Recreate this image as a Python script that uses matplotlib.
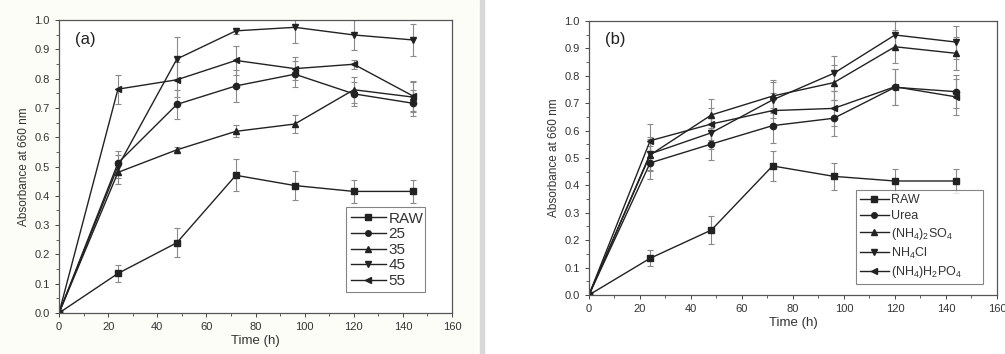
import matplotlib
matplotlib.use('Agg')
import numpy as np
from matplotlib import pyplot as plt
from matplotlib.ticker import MultipleLocator
from matplotlib.lines import Line2D

plt.rcParams['font.family'] = ['Liberation Sans', 'DejaVu Sans']
plt.rcParams['mathtext.default'] = 'regular'

# ========== Datos ==========
time_h = [0, 24, 48, 72, 96, 120, 144]

# panel (a): temperaturas
labels_a = ['RAW', '25', '35', '45', '55']
raw_a = [0, 0.135, 0.24, 0.47, 0.435, 0.415, 0.415]
t25 = [0, 0.512, 0.712, 0.775, 0.815, 0.748, 0.716]
t35 = [0, 0.48, 0.557, 0.62, 0.645, 0.762, 0.737]
t45 = [0, 0.50, 0.867, 0.963, 0.975, 0.949, 0.932]
t55 = [0, 0.764, 0.796, 0.862, 0.834, 0.849, 0.741]
raw_a_err = [0, 0.03, 0.05, 0.055, 0.05, 0.04, 0.04]
t25_err = [0, 0.04, 0.05, 0.055, 0.045, 0.04, 0.045]
t35_err = [0, 0.04, 0.01, 0.02, 0.03, 0.045, 0.05]
t45_err = [0, 0.04, 0.075, 0.01, 0.055, 0.05, 0.055]
t55_err = [0, 0.05, 0.06, 0.05, 0.04, 0.015, 0.05]

# panel (b): fuentes de nitrogeno
labels_b = ['RAW', 'Urea', '(NH$_4$)$_2$SO$_4$', 'NH$_4$Cl', '(NH$_4$)H$_2$PO$_4$']
raw_b = [0, 0.134, 0.237, 0.471, 0.433, 0.416, 0.416]
urea = [0, 0.482, 0.551, 0.618, 0.645, 0.758, 0.742]
sulfato = [0, 0.511, 0.657, 0.726, 0.775, 0.906, 0.882]
cloruro = [0, 0.515, 0.592, 0.712, 0.809, 0.949, 0.923]
fosfato = [0, 0.563, 0.624, 0.673, 0.681, 0.760, 0.723]
raw_b_err = [0, 0.03, 0.05, 0.055, 0.05, 0.045, 0.045]
urea_err = [0, 0.06, 0.06, 0.065, 0.065, 0.065, 0.06]
sulfato_err = [0, 0.06, 0.06, 0.06, 0.065, 0.06, 0.06]
cloruro_err = [0, 0.06, 0.06, 0.065, 0.065, 0.05, 0.06]
fosfato_err = [0, 0.06, 0.06, 0.065, 0.065, 0.065, 0.065]

markers = ['s', 'o', '^', 'v', '<']

# ========== Figura ==========
fig = plt.figure(figsize=(10.05, 3.54), dpi=100)
fig.patches.append(plt.Rectangle((0, 0), 0.477, 1, transform=fig.transFigure,
                                 color='#fdfdf8', zorder=-2))
fig.patches.append(plt.Rectangle((0.478, 0), 0.004, 1, transform=fig.transFigure,
                                 color='#d8d8d8', zorder=-1))


def panel(ax, series, errs, labels, tag, legend_box, legend_fs, spacing):
    handles = []
    for y, e, m, lab in zip(series, errs, markers, labels):
        ax.errorbar(time_h, y, yerr=e, marker=m, ms=4.5, color='#222222', lw=1.0,
                    ecolor='#8a8a8a', elinewidth=0.8, capsize=2.5, capthick=0.8)
        handles.append(Line2D([], [], marker=m, ms=4, color='#222222', lw=1.0,
                              label=lab))
    ax.set_xlim(0, 160)
    ax.set_ylim(0, 1.0)
    ax.xaxis.set_major_locator(MultipleLocator(20))
    ax.xaxis.set_minor_locator(MultipleLocator(10))
    ax.yaxis.set_major_locator(MultipleLocator(0.1))
    ax.yaxis.set_minor_locator(MultipleLocator(0.05))
    ax.yaxis.set_major_formatter(matplotlib.ticker.FormatStrFormatter('%.1f'))
    ax.tick_params(which='major', direction='out', length=3, width=0.7,
                   labelsize=8, colors='#444444', labelcolor='#333333')
    ax.tick_params(which='minor', direction='out', length=2, width=0.6,
                   colors='#444444')
    for s in ax.spines.values():
        s.set_color('#555555')
        s.set_linewidth(0.9)
    ax.set_xlabel('Time (h)', fontsize=9.5, color='#333333', labelpad=2)
    ax.set_ylabel('Absorbance at 660 nm', fontsize=8.5, color='#333333', labelpad=3)
    ax.text(0.04, 0.96, tag, transform=ax.transAxes, fontsize=12, va='top',
            color='#222222')
    leg = ax.legend(handles=handles, loc='lower left', bbox_to_anchor=legend_box,
                    mode='expand', fontsize=legend_fs, frameon=True, fancybox=False,
                    handlelength=2.3, handletextpad=0.2,
                    labelspacing=spacing, borderpad=0.3, borderaxespad=0)
    leg.get_frame().set_edgecolor('#666666')
    leg.get_frame().set_linewidth(0.8)
    for t in leg.get_texts():
        t.set_color('#333333')


ax1 = fig.add_axes([0.0587, 0.1158, 0.3911, 0.8277])
panel(ax1,
      [raw_a, t25, t35, t45, t55],
      [raw_a_err, t25_err, t35_err, t45_err, t55_err],
      labels_a, '(a)', (0.73, 0.07, 0.2, 0.29), 11, 0.1)

ax2 = fig.add_axes([0.586, 0.1667, 0.406, 0.774])
panel(ax2,
      [raw_b, urea, sulfato, cloruro, fosfato],
      [raw_b_err, urea_err, sulfato_err, cloruro_err, fosfato_err],
      labels_b, '(b)', (0.655, 0.04, 0.31, 0.33), 9, 0.3)

plt.savefig('out.png', dpi=100)
